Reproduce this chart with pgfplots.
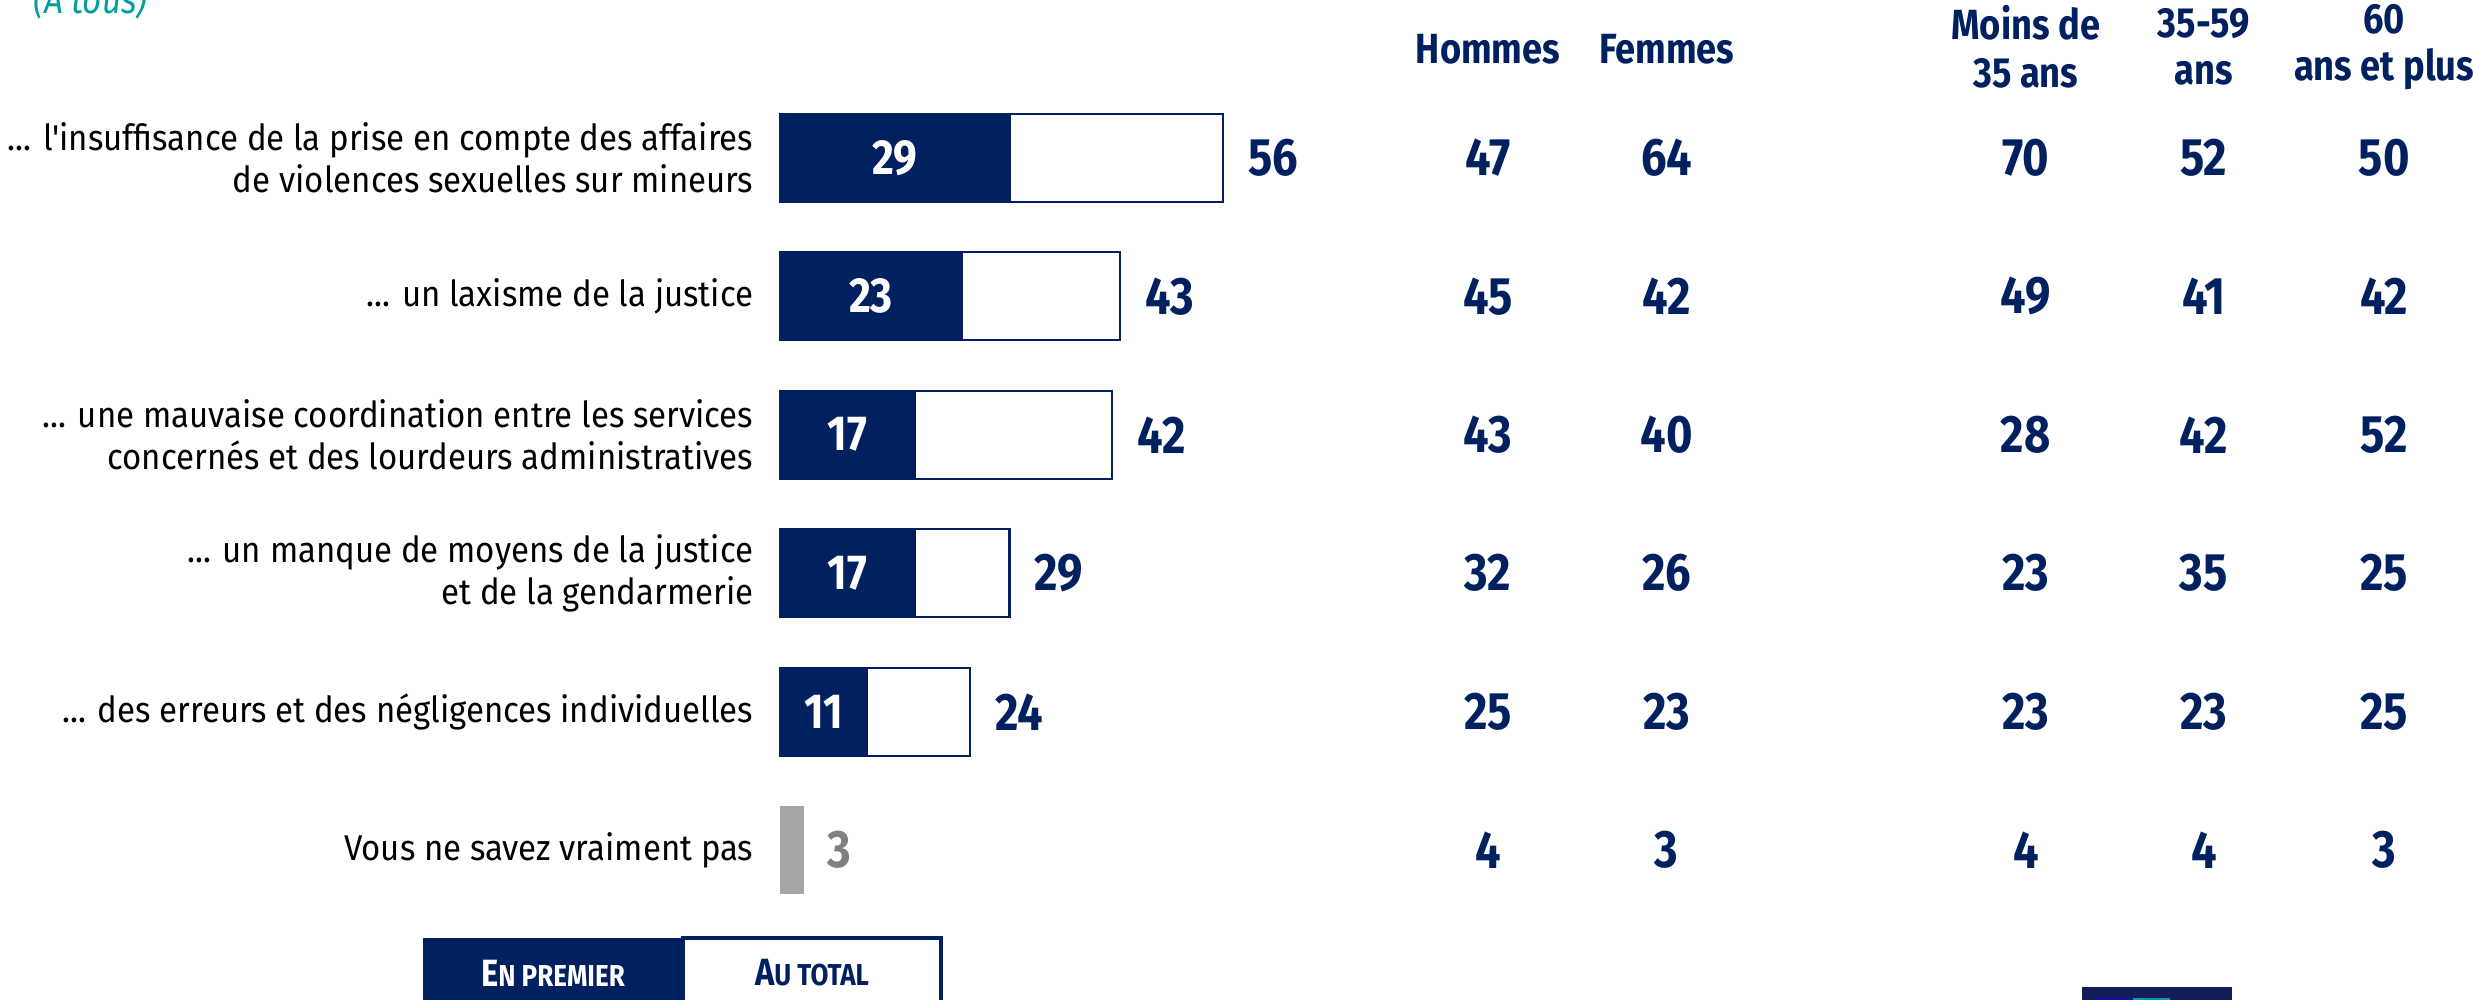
\documentclass[border=0pt]{standalone}
\usepackage{fontspec}
\setmainfont{Fira Sans}[FakeStretch=0.86]
\newfontfamily\labfont{Fira Sans}[FakeStretch=0.92]
\usepackage{pgfplots}
\usepackage{pgfplotstable}
\pgfplotsset{compat=1.18}
\definecolor{navy}{RGB}{0,32,96}
\definecolor{teal2}{RGB}{0,158,158}
\definecolor{gbar}{RGB}{166,166,166}
\definecolor{gtext}{RGB}{128,128,128}
\definecolor{logo}{RGB}{20,28,90}
\newcommand{\ddd}{.\kern0pt.\kern0pt.}

\pgfplotstableread{
row first total
0 29 56
1 23 43
2 17 42
3 17 29
4 11 24
}\main

\pgfplotstableread{
row hom fem m35 m3559 m60
0 47 64 70 52 50
1 45 42 49 41 42
2 43 40 28 42 52
3 32 26 23 35 25
4 25 23 23 23 25
5 4 3 4 4 3
}\cols

\begin{document}
\begin{tikzpicture}
\useasboundingbox (0,0) rectangle (247.3mm,100mm);
\begin{axis}[
  at={(78mm,91.15mm)}, anchor=north west,
  x=0.791mm, y=13.85mm, y dir=reverse,
  xmin=0, xmax=215, ymin=-0.5, ymax=5.5,
  axis line style={draw=none}, clip=false,
  ytick={0,1,2,3,4,5},
  yticklabels={
    {\ddd{} l'insuffisance de la prise en compte des affaires\\de violences sexuelles sur mineurs},
    {\ddd{} un laxisme de la justice},
    {\ddd{} une mauvaise coordination entre les services\\concernés et des lourdeurs administratives},
    {\ddd{} un manque de moyens de la justice\\et de la gendarmerie},
    {\ddd{} des erreurs et des négligences individuelles},
    {Vous ne savez vraiment pas}},
  yticklabel style={font=\labfont\fontsize{10.2}{11.8}\selectfont, align=right, anchor=east, inner sep=0pt, xshift=-2.6mm, text=black},
  xtick=\empty,
  major tick length=0pt, tick style={draw=none},
  colnode/.style={only marks, mark=text, text mark={},
    nodes near coords, point meta=explicit symbolic,
    every node near coord/.append style={anchor=center, text=navy, inner sep=0pt,
      font=\bfseries\fontsize{15}{17}\selectfont}},
]
% totals (white bars)
\addplot[xbar, bar width=8.8mm, bar shift=0pt, fill=white, draw=navy, line width=0.7pt,
  nodes near coords, point meta=explicit symbolic,
  every node near coord/.append style={anchor=west, inner sep=0pt, xshift=2.4mm, text=navy,
    font=\bfseries\fontsize{15}{17}\selectfont}]
  table[x=total, y=row, meta=total] {\main};
% first (dark bars)
\addplot[xbar, bar width=8.8mm, bar shift=0pt, fill=navy, draw=navy, line width=0.7pt]
  table[x=first, y=row] {\main};
% labels in dark bars
\addplot[only marks, mark=text, text mark={},
  nodes near coords, point meta=explicit symbolic,
  every node near coord/.append style={anchor=center, inner sep=0pt, text=white,
    font=\bfseries\fontsize{14}{16}\selectfont}]
  table[x expr=\thisrow{first}/2, y=row, meta=first] {\main};
% don't know
\addplot[xbar, bar width=8.8mm, bar shift=0pt, fill=gbar, draw=none,
  nodes near coords, point meta=explicit symbolic,
  every node near coord/.append style={anchor=west, inner sep=0pt, xshift=2.3mm, text=gtext,
    font=\bfseries\fontsize{15}{17}\selectfont}]
  coordinates {(3,5) [3]};
% columns
\addplot[colnode] table[x expr=89.5, y=row, meta=hom] {\cols};
\addplot[colnode] table[x expr=112.1, y=row, meta=fem] {\cols};
\addplot[colnode] table[x expr=157.5, y=row, meta=m35] {\cols};
\addplot[colnode] table[x expr=180.0, y=row, meta=m3559] {\cols};
\addplot[colnode] table[x expr=202.8, y=row, meta=m60] {\cols};
% headers
\begin{scope}[every node/.style={anchor=center, align=center, text=navy, inner sep=0pt,
    font=\bfseries\fontsize{12}{13.5}\selectfont}]
\node at (axis cs:89.5,-0.78) {Hommes};
\node at (axis cs:112.1,-0.78) {Femmes};
\node at (axis cs:157.5,-0.8) {Moins de\\35 ans};
\node at (axis cs:180.0,-0.8) {35-59\\ans};
\node at (axis cs:202.8,-0.8) {60\\ans et plus};
\end{scope}
\end{axis}
% subtitle
\node[anchor=base west, inner sep=0pt, text=teal2, font=\itshape\fontsize{11}{13}\selectfont] at (3.3mm,98.6mm) {(À tous)};
% legend
\fill[navy] (42.3mm,6.2mm) rectangle (68.3mm,-1mm);
\draw[navy, line width=1.2pt, fill=white] (68.3mm,6.2mm) rectangle (94.1mm,-1mm);
\node[text=white, inner sep=0pt, font=\bfseries] at (55.3mm,2.7mm) {{\fontsize{10.8}{12}\selectfont E}{\fontsize{8.6}{10}\selectfont N PREMIER}};
\node[text=navy, inner sep=0pt, font=\bfseries] at (81.2mm,2.7mm) {{\fontsize{10.8}{12}\selectfont A}{\fontsize{8.6}{10}\selectfont U TOTAL}};
% logo (partly visible)
\fill[logo] (208.2mm,1.3mm) rectangle (223.2mm,-1mm);
\fill[blue!45!logo] (209.3mm,0.2mm) rectangle (213.3mm,-1mm);
\fill[teal2] (213.3mm,0.2mm) rectangle (217.0mm,-1mm);
\end{tikzpicture}
\end{document}
